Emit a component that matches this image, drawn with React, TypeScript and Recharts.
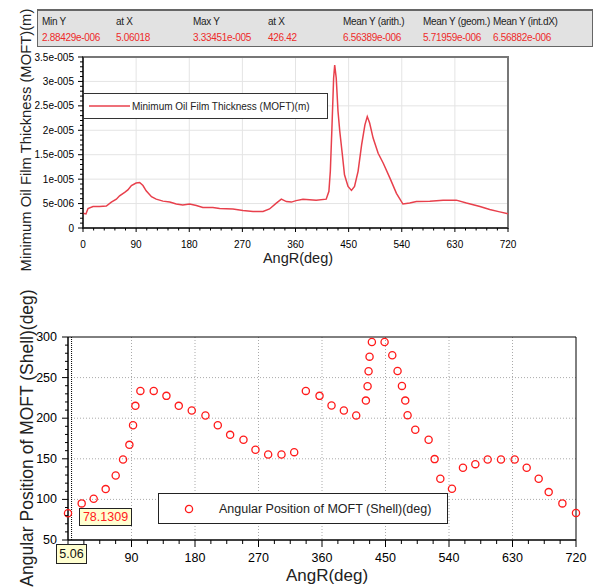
import React from 'react';
import {
  LineChart, Line, ScatterChart, Scatter, XAxis, YAxis, CartesianGrid,
  Legend, ReferenceArea, ReferenceLine, Label,
} from 'recharts';

const FONT = '"Liberation Sans", Arial, sans-serif';

// statistics box above the first chart
const statHeads = ['Min Y', 'at X', 'Max Y', 'at X', 'Mean Y (arith.)', 'Mean Y (geom.)', 'Mean Y (int.dX)'];
const statValues = ['2.88429e-006', '5.06018', '3.33451e-005', '426.42', '6.56389e-006', '5.71959e-006', '6.56882e-006'];

// minimum oil film thickness, values in micrometres
const moftAngle = [
  0, 5, 8.5, 17, 28, 39.5, 48, 56.5, 62, 70.6,
  76, 82, 90, 96, 101.6, 107, 116, 124, 135.5, 147,
  158, 169, 180.7, 192, 203, 220, 231.5, 254, 271, 288,
  305, 316, 327.5, 336, 344.6, 353, 361, 372.7, 395, 412,
  416.6, 419, 421.7, 424.6, 426.4, 429, 432, 435, 439.4, 443,
  449, 454.8, 460, 466, 472, 477.6, 481.6, 485.6, 491.5, 500,
  508.5, 520, 531, 542, 553.5, 564.8, 587.6, 610, 632.4, 649.6,
  672.5, 689, 706, 720,
];
const moftMicron = [
  3.0, 2.88, 4.0, 4.4, 4.4, 4.5, 5.3, 5.9, 6.6, 7.3,
  7.8, 8.7, 9.2, 9.3, 8.7, 7.6, 6.4, 5.9, 5.5, 5.3,
  4.9, 4.7, 4.9, 4.6, 4.2, 4.2, 4.0, 3.9, 3.6, 3.4,
  3.4, 3.9, 5.1, 5.9, 5.4, 5.3, 5.6, 5.9, 5.7, 5.9,
  7.5, 11.6, 20.4, 30.7, 33.35, 30.7, 23.9, 19.8, 15, 10.9,
  8.5, 7.7, 8.5, 11.6, 17, 21.1, 22.8, 21.5, 18.4, 15.3,
  13.3, 10.2, 7.1, 4.9, 5.1, 5.4, 5.5, 5.7, 5.7, 5.1,
  4.4, 3.8, 3.3, 2.9,
];

// angular position of MOFT on the shell
const shellAngle = [
  0, 19.4, 36.4, 53.4, 67.6, 78, 87, 92.2, 95.5, 102.6,
  121.5, 139.5, 157, 175.4, 194.8, 212.3, 229.8, 248.7, 265.7, 283.7,
  302.6, 320.6, 337.1, 356.5, 373.5, 391, 408.5, 422.2, 424.6, 426,
  427.4, 430.7, 448.7, 459.6, 467.1, 473.3, 478, 481.3, 492.2, 511.1,
  519.6, 527.7, 544.2, 559.8, 577.3, 594.8, 613.7, 633.1, 650.1, 667.1,
  681.3, 700.7, 720,
];
const shellDeg = [
  83, 95.1, 100.8, 112.7, 129.5, 149.2, 167.2, 191.4, 215.2, 233.6,
  233.6, 227.5, 215.2, 209.4, 203.3, 191.4, 179.5, 173.4, 161.1, 155.3,
  155.3, 158.2, 233.6, 227.5, 215.6, 209.4, 203.3, 221.7, 239.3, 257.8,
  275.8, 293.9, 293.9, 277.5, 258.2, 239.8, 221.7, 203.7, 185.7, 173.4,
  149.6, 125.4, 113.1, 139, 143.4, 149.2, 149.2, 149.2, 139, 125.4,
  109, 95.1, 83.2,
];

// tick labels
const angleMajor = [0, 90, 180, 270, 360, 450, 540, 630, 720];
const moftMajor = [0, 5e-6, 1e-5, 1.5e-5, 2e-5, 2.5e-5, 3e-5, 3.5e-5];
const shellMajor = [50, 100, 150, 200, 250, 300];
const cursorX = 5.06;
const cursorY = 78.1309;

const steps = (from: number, to: number, n: number) => {
  const out: number[] = [];
  for (let i = 0; i <= n; i++) out.push(from + ((to - from) * i) / n);
  return out;
};

const topXTicks = steps(0, 720, 40);
const topYTicks = steps(0, 3.5e-5, 35);
const botXTicks = steps(0, 720, 32);
const botYTicks = steps(50, 300, 25);

const isMajor = (v: number, list: number[], tol: number) => list.some(m => Math.abs(m - v) < tol);

const expFmt = (v: number) => {
  if (Math.abs(v) < 1e-12) return '0';
  const s = Number(v.toPrecision(6)).toExponential();
  return s.replace(/e([+-])(\d+)/, (_m, sg, d) => 'e' + sg + d.padStart(3, '0'));
};

const moftData = moftAngle.map((a, i) => ({ angle: a, moft: moftMicron[i] * 1e-6 }));
const shellData = shellAngle.map((a, i) => ({ angle: a, pos: shellDeg[i] }));

const makeXTick = (major: number[], gap: number, big: number, small: number, fs: number, skipZero: boolean) => (p: any) => {
  const v = p.payload.value;
  const m = isMajor(v, major, 1e-6);
  const ay = p.y - gap;
  return (
    <g>
      <line x1={p.x} x2={p.x} y1={ay} y2={ay + (m ? big : small)} stroke="#000" />
      {m && !(skipZero && v === 0) && (
        <text x={p.x} y={ay + gap} textAnchor="middle" dominantBaseline="central" fontSize={fs} fontFamily={FONT} fill="#000">
          {Math.round(v)}
        </text>
      )}
    </g>
  );
};

const makeYTick = (major: number[], tol: number, gap: number, big: number, small: number, fs: number, fmt: (v: number) => string) => (p: any) => {
  const v = p.payload.value;
  const m = isMajor(v, major, tol);
  const ax = p.x + gap;
  return (
    <g>
      <line x1={ax} x2={ax - (m ? big : small)} y1={p.y} y2={p.y} stroke="#000" />
      {m && (
        <text x={p.x} y={p.y} textAnchor="end" dominantBaseline="central" fontSize={fs} fontFamily={FONT} fill="#000">
          {fmt(v)}
        </text>
      )}
    </g>
  );
};

const StatsBox = () => {
  const colX = [4, 78, 155, 230, 305, 385, 455];
  return (
    <div style={{
      position: 'absolute', left: 37, top: 9, width: 556, height: 38,
      background: '#e2e2e2', border: '1px solid #666', borderTop: '2px solid #666',
      fontFamily: FONT, fontSize: 10, letterSpacing: -0.3, boxSizing: 'border-box',
    }}>
      {statHeads.map((h, i) => (
        <div key={'h' + i} style={{ position: 'absolute', left: colX[i], top: 5, color: '#222', whiteSpace: 'nowrap' }}>{h}</div>
      ))}
      {statValues.map((v, i) => (
        <div key={'v' + i} style={{ position: 'absolute', left: colX[i], top: 21, color: '#ee2a2a', whiteSpace: 'nowrap' }}>{v}</div>
      ))}
    </div>
  );
};

const TopLegend = () => (
  <div style={{
    width: 245, height: 26, background: '#fff', border: '1.5px solid #333', boxSizing: 'border-box',
    display: 'flex', alignItems: 'center', fontFamily: FONT, fontSize: 10, color: '#222',
  }}>
    <svg width={48} height={10}><line x1={5} x2={46} y1={5} y2={5} stroke="#e8404c" strokeWidth={1.5} /></svg>
    <span style={{ whiteSpace: 'nowrap' }}>Minimum Oil Film Thickness (MOFT)(m)</span>
  </div>
);

const BottomLegend = () => (
  <div style={{
    width: 290, height: 31, background: '#fff', border: '1px solid #222', boxSizing: 'border-box',
    display: 'flex', alignItems: 'center', fontFamily: FONT, fontSize: 12.5, color: '#222',
  }}>
    <svg width={60} height={12}><circle cx={30} cy={6} r={3.6} fill="none" stroke="#ff1a1a" strokeWidth={1.3} /></svg>
    <span style={{ whiteSpace: 'nowrap' }}>Angular Position of MOFT (Shell)(deg)</span>
  </div>
);

const HollowDot = (p: any) => (
  <circle cx={p.cx} cy={p.cy} r={3.6} fill="none" stroke="#ff1a1a" strokeWidth={1.3} />
);

export default function App() {
  return (
    <div style={{ position: 'absolute', left: 0, top: 0, width: 594, height: 587, background: '#fff', overflow: 'hidden' }}>
      <div style={{ position: 'absolute', left: 0, top: 0 }}>
        <LineChart width={594} height={272} data={moftData} margin={{ top: 57, right: 86, bottom: 14, left: 0 }}>
          <CartesianGrid stroke="#e4e4e4" verticalValues={angleMajor.slice(1, -1)} horizontalValues={moftMajor.slice(1, -1)} />
          <ReferenceArea x1={0} x2={720} y1={0} y2={3.5e-5} fill="none" stroke="#777" strokeWidth={2} />
          <XAxis dataKey="angle" type="number" domain={[0, 720]} ticks={topXTicks} interval={0}
            tickSize={0} tickMargin={16} tickLine={false} stroke="#000"
            tick={makeXTick(angleMajor, 16, 4, 2.5, 10, false)} height={30}>
            <Label content={() => (
              <text x={298} y={258} textAnchor="middle" dominantBaseline="central" fontSize={14.5} fontFamily={FONT} fill="#222">AngR(deg)</text>
            )} />
          </XAxis>
          <YAxis type="number" domain={[0, 3.5e-5]} ticks={topYTicks} interval={0} width={83}
            tickSize={0} tickMargin={9} tickLine={false} stroke="#000"
            tick={makeYTick(moftMajor, 1e-10, 9, 5, 3, 10, expFmt)}>
            <Label content={() => (
              <text x={26} y={140} transform="rotate(-90 26 140)" textAnchor="middle" dominantBaseline="central" fontSize={14.8} fontFamily={FONT} fill="#222">
                Minimum Oil Film Thickness (MOFT)(m)
              </text>
            )} />
          </YAxis>
          <Legend layout="horizontal" verticalAlign="middle" align="center" content={() => <TopLegend />}
            wrapperStyle={{ left: 83, top: 93, width: 245, height: 26 }} />
          <Line type="linear" dataKey="moft" stroke="#e8404c" strokeWidth={1.5} dot={false} isAnimationActive={false} />
        </LineChart>
      </div>

      <StatsBox />

      <div style={{ position: 'absolute', left: 0, top: 280 }}>
        <ScatterChart width={594} height={307} margin={{ top: 57, right: 18, bottom: 17, left: 0 }}>
          <CartesianGrid stroke="#aaa" strokeDasharray="1 2" verticalValues={angleMajor.slice(1, -1)} horizontalValues={shellMajor.slice(1, -1)} />
          <ReferenceArea x1={0} x2={720} y1={50} y2={300} fill="none" stroke="#000" strokeWidth={1} />
          <XAxis dataKey="angle" type="number" domain={[0, 720]} ticks={botXTicks} interval={0}
            tickSize={0} tickMargin={18} tickLine={false} stroke="#000"
            tick={makeXTick(angleMajor, 18, 7, 4, 12.5, true)} height={30}>
            <Label content={() => (
              <text x={327} y={295} textAnchor="middle" dominantBaseline="central" fontSize={17} fontFamily={FONT} fill="#222">AngR(deg)</text>
            )} />
          </XAxis>
          <YAxis dataKey="pos" type="number" domain={[50, 300]} ticks={botYTicks} interval={0} width={68}
            tickSize={0} tickMargin={11} tickLine={false} stroke="#000"
            tick={makeYTick(shellMajor, 1e-6, 11, 6, 3, 12.5, v => String(Math.round(v)))}>
            <Label content={() => (
              <text x={27} y={158} transform="rotate(-90 27 158)" textAnchor="middle" dominantBaseline="central" fontSize={17.5} fontFamily={FONT} fill="#222">
                Angular Position of MOFT (Shell)(deg)
              </text>
            )} />
          </YAxis>
          <ReferenceLine x={cursorX} stroke="#000" strokeDasharray="1 1" />
          <Legend layout="horizontal" verticalAlign="middle" align="center" content={() => <BottomLegend />}
            wrapperStyle={{ left: 158, top: 213, width: 290, height: 31 }} />
          <Scatter data={shellData} shape={HollowDot} isAnimationActive={false} />
        </ScatterChart>
      </div>

      <div style={{
        position: 'absolute', left: 79, top: 508, width: 53, height: 18, boxSizing: 'border-box',
        background: '#ffffd0', border: '1px solid #222', color: '#ff2020', fontFamily: FONT, fontSize: 12.5,
        display: 'flex', alignItems: 'center', justifyContent: 'center',
      }}>{String(cursorY)}</div>
      <div style={{
        position: 'absolute', left: 56, top: 544, width: 31, height: 20, boxSizing: 'border-box',
        background: '#ffffd0', border: '1px solid #222', color: '#111', fontFamily: FONT, fontSize: 12.5,
        display: 'flex', alignItems: 'center', justifyContent: 'center',
      }}>{String(cursorX)}</div>
    </div>
  );
}
